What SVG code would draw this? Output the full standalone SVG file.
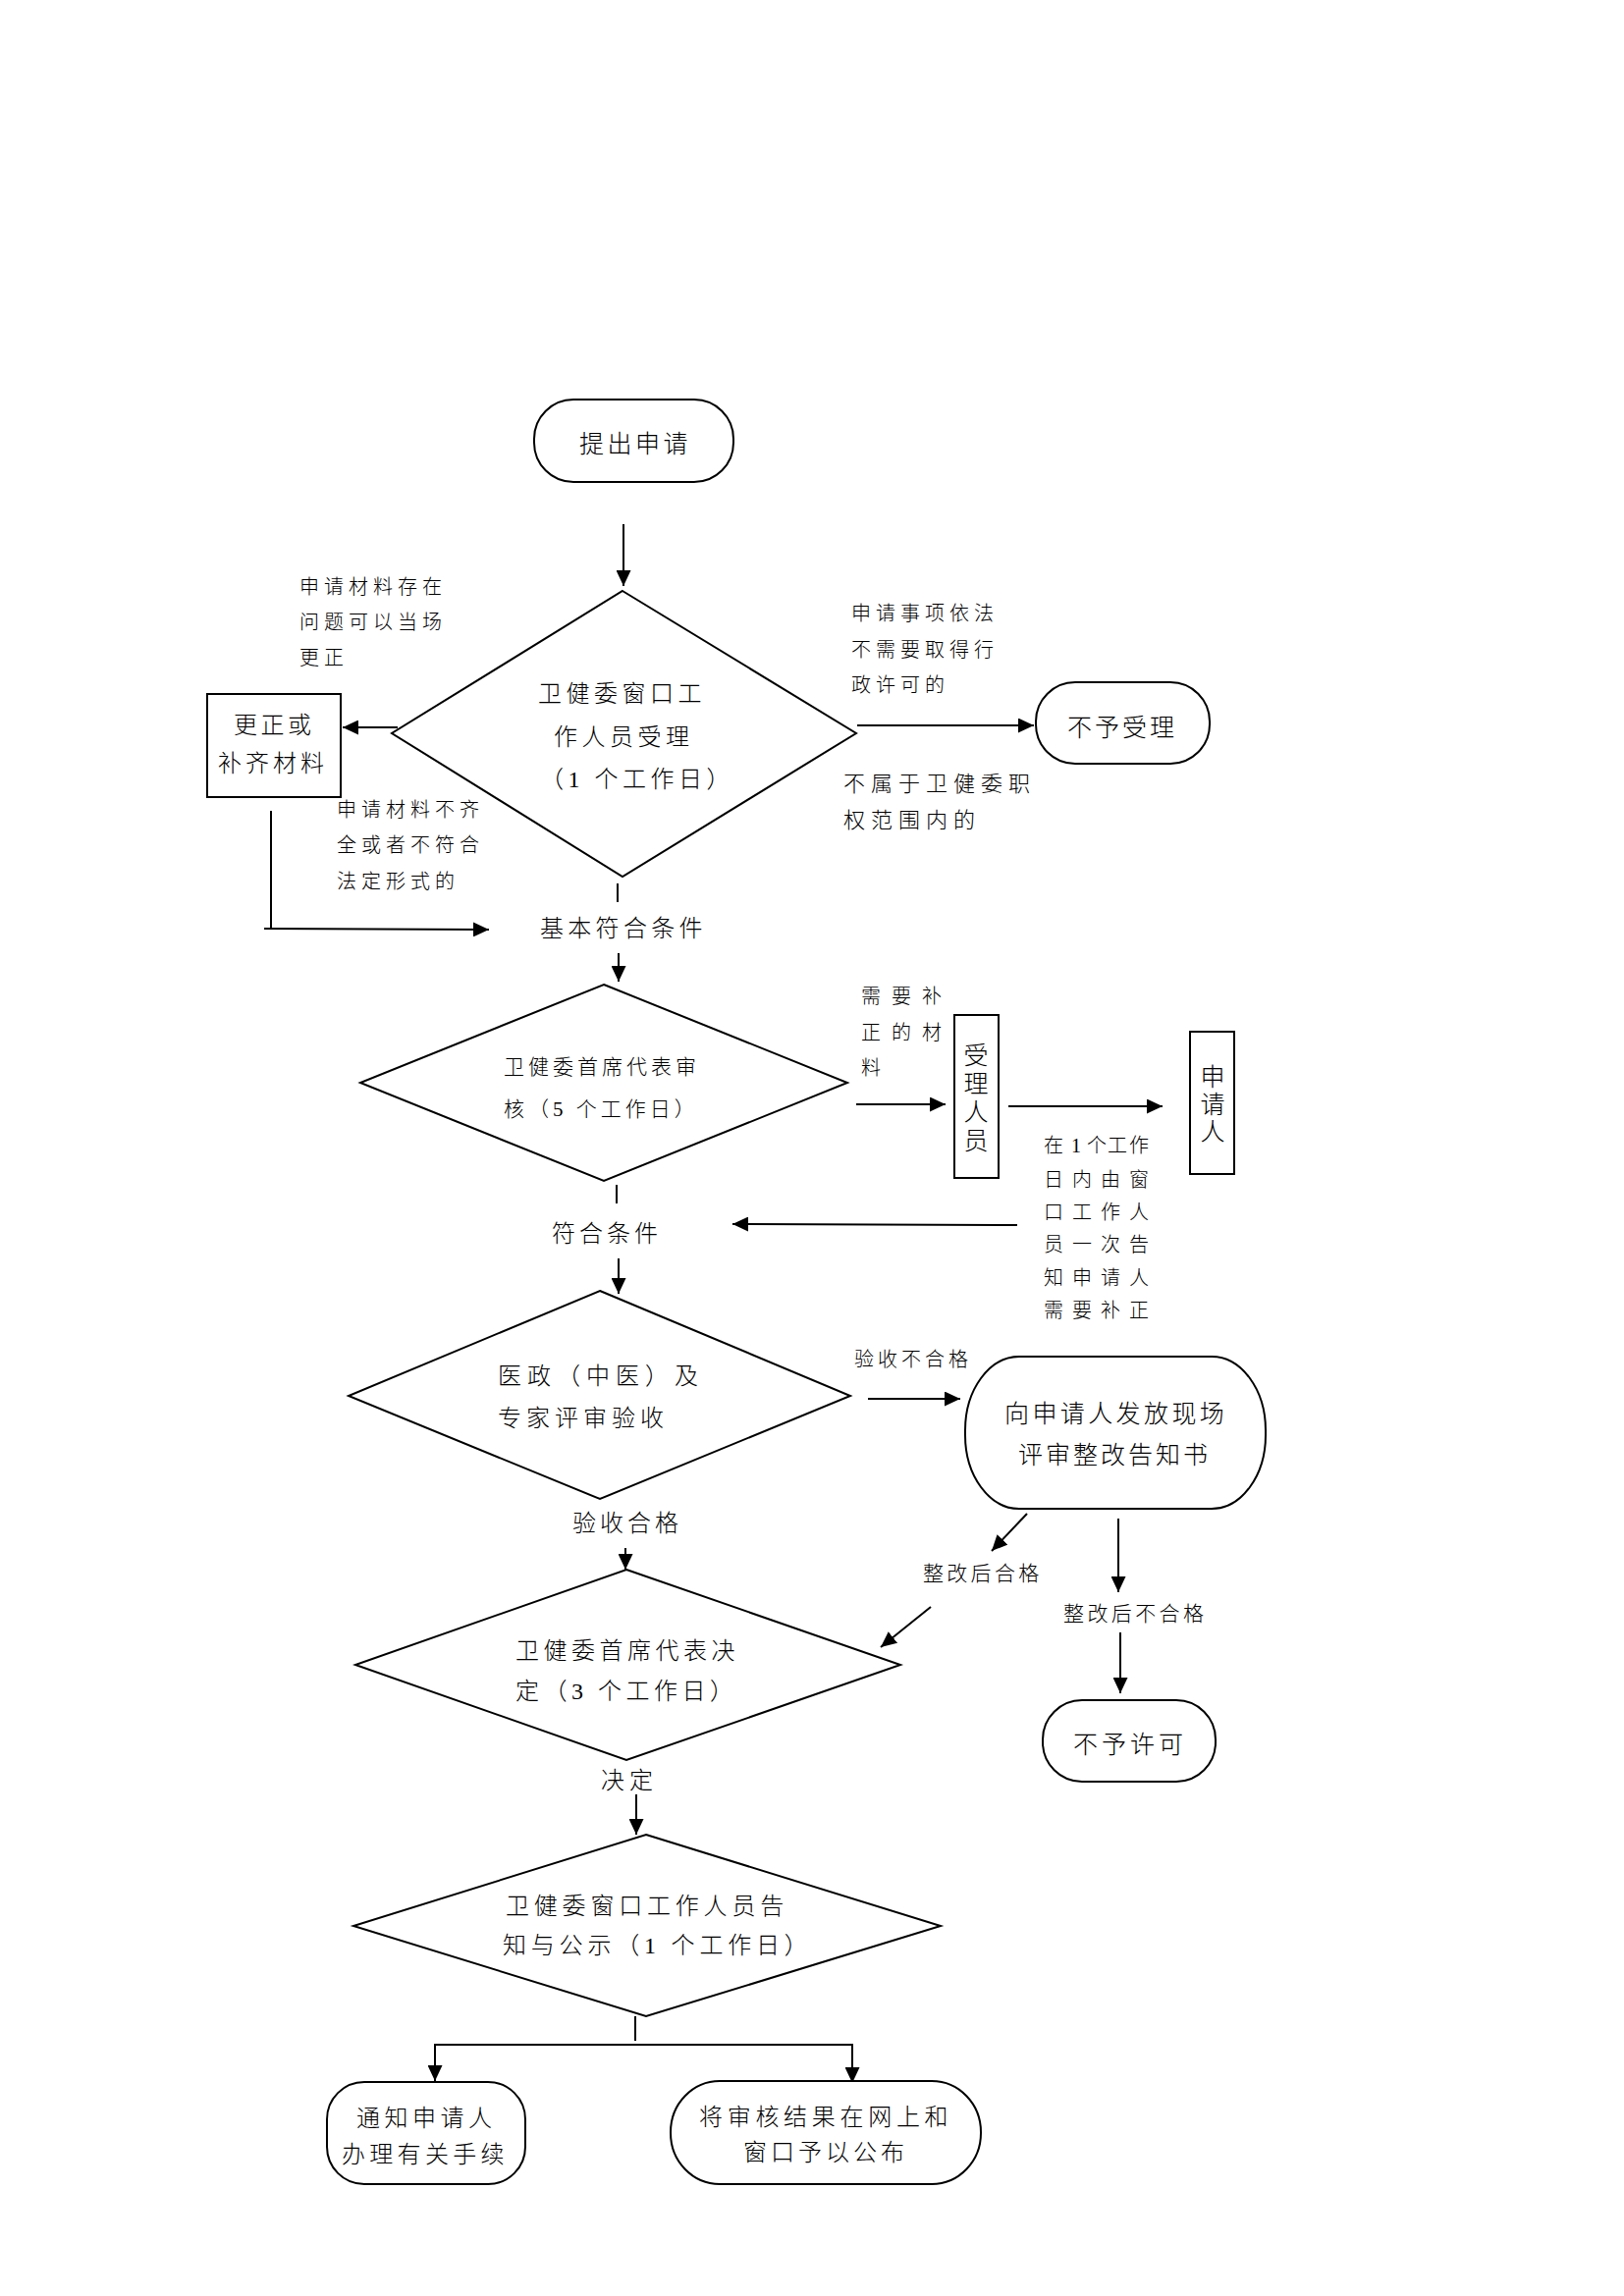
<svg xmlns="http://www.w3.org/2000/svg" width="1654" height="2339" viewBox="0 0 1654 2339">
<style>
.s{fill:#fff;stroke:#000;stroke-width:2}
.c{fill:none;stroke:#000;stroke-width:2}
text{font-family:"Liberation Serif","Noto Sans CJK SC",serif;font-weight:300;fill:#000;dominant-baseline:central}
.n{font-size:24px;letter-spacing:4.5px}
.l{font-size:20px;letter-spacing:5px}
.m{font-size:21px;letter-spacing:4px}
.v{font-size:25px;text-anchor:middle}
</style>
<defs>
<marker id="a" markerUnits="userSpaceOnUse" markerWidth="16" markerHeight="15" refX="16" refY="7.5" orient="auto"><path d="M0,0 L16,7.5 L0,15 z" fill="#000"/></marker>
</defs>
<rect width="1654" height="2339" fill="#fff"/>
<g id="connectors">
<line class="c" x1="635" y1="534" x2="635" y2="597" marker-end="url(#a)"/>
<line class="c" x1="405" y1="741" x2="349" y2="741" marker-end="url(#a)"/>
<line class="c" x1="873" y1="739" x2="1053" y2="739" marker-end="url(#a)"/>
<polyline class="c" points="276,826 276,947"/>
<line class="c" x1="269" y1="946" x2="498" y2="947" marker-end="url(#a)"/>
<line class="c" x1="629" y1="900" x2="629" y2="919"/>
<line class="c" x1="630" y1="971" x2="630" y2="1000" marker-end="url(#a)"/>
<line class="c" x1="628" y1="1207" x2="628" y2="1226"/>
<line class="c" x1="1036" y1="1248" x2="746" y2="1247" marker-end="url(#a)"/>
<line class="c" x1="630" y1="1282" x2="630" y2="1318" marker-end="url(#a)"/>
<line class="c" x1="872" y1="1125" x2="963" y2="1125" marker-end="url(#a)"/>
<line class="c" x1="1027" y1="1127" x2="1184" y2="1127" marker-end="url(#a)"/>
<line class="c" x1="884" y1="1425" x2="978" y2="1425" marker-end="url(#a)"/>
<line class="c" x1="1046" y1="1542" x2="1010" y2="1580" marker-end="url(#a)"/>
<line class="c" x1="948" y1="1637" x2="897" y2="1678" marker-end="url(#a)"/>
<line class="c" x1="1139" y1="1547" x2="1139" y2="1622" marker-end="url(#a)"/>
<line class="c" x1="1141" y1="1663" x2="1141" y2="1725" marker-end="url(#a)"/>
<line class="c" x1="637" y1="1577" x2="637" y2="1599" marker-end="url(#a)"/>
<line class="c" x1="648" y1="1828" x2="648" y2="1869" marker-end="url(#a)"/>
<line class="c" x1="647" y1="2054" x2="647" y2="2079"/>
<line class="c" x1="443" y1="2083" x2="869" y2="2083"/>
<line class="c" x1="443" y1="2082" x2="443" y2="2120" marker-end="url(#a)"/>
<line class="c" x1="868" y1="2082" x2="868" y2="2122" marker-end="url(#a)"/>
</g>
<g id="start">
<rect class="s" x="544" y="407" width="203" height="84" rx="40"/>
<text class="n" x="590" y="452" style="font-size:25px;letter-spacing:3.5px">提出申请</text>
</g>
<g id="accept">
<polygon class="s" points="634,602 872,747 634,893 399,747"/>
<text class="n" x="548" y="707">卫健委窗口工</text>
<text class="n" x="564" y="751">作人员受理</text>
<text class="n" x="550" y="794">（1 个工作日）</text>
</g>
<g id="correct">
<rect class="s" x="211" y="707" width="136" height="105"/>
<text class="n" x="238" y="739" style="letter-spacing:3.5px">更正或</text>
<text class="n" x="222" y="778" style="letter-spacing:4px">补齐材料</text>
</g>
<g id="reject">
<rect class="s" x="1055" y="695" width="177" height="83" rx="40"/>
<text class="n" x="1087" y="741" style="font-size:25px;letter-spacing:3px">不予受理</text>
</g>
<g id="labels1">
<text class="l" x="305" y="598">申请材料存在</text>
<text class="l" x="305" y="634">问题可以当场</text>
<text class="l" x="305" y="670">更正</text>
<text class="l" x="343" y="825">申请材料不齐</text>
<text class="l" x="343" y="861">全或者不符合</text>
<text class="l" x="343" y="898">法定形式的</text>
<text class="l" x="867" y="625">申请事项依法</text>
<text class="l" x="867" y="662">不需要取得行</text>
<text class="l" x="867" y="698">政许可的</text>
<text class="l" x="859" y="798" style="font-size:22px;letter-spacing:6px">不属于卫健委职</text>
<text class="l" x="859" y="835" style="font-size:22px;letter-spacing:6px">权范围内的</text>
<text class="n" x="550" y="946" style="letter-spacing:4.3px">基本符合条件</text>
</g>
<g id="review">
<polygon class="s" points="615,1003 863,1103 615,1203 367,1103"/>
<text class="m" x="513" y="1087">卫健委首席代表审</text>
<text class="m" x="513" y="1130">核（5 个工作日）</text>
</g>
<g id="staff">
<rect class="s" x="972" y="1034" width="45" height="166"/>
<text class="v" x="994" y="1075">受</text>
<text class="v" x="994" y="1104">理</text>
<text class="v" x="994" y="1133">人</text>
<text class="v" x="994" y="1162">员</text>
</g>
<g id="applicant">
<rect class="s" x="1212" y="1051" width="45" height="145"/>
<text class="v" x="1235" y="1097">申</text>
<text class="v" x="1235" y="1125">请</text>
<text class="v" x="1235" y="1153">人</text>
</g>
<g id="labels2">
<text class="l" x="877" y="1015" style="letter-spacing:11px">需要补</text>
<text class="l" x="877" y="1052" style="letter-spacing:11px">正的材</text>
<text class="l" x="877" y="1088">料</text>
<text class="l" style="letter-spacing:0" x="1063 1091 1107 1128 1150" y="1167">在1个工作</text>
<text class="l" x="1063" y="1202" style="letter-spacing:9px">日内由窗</text>
<text class="l" x="1063" y="1235" style="letter-spacing:9px">口工作人</text>
<text class="l" x="1063" y="1268" style="letter-spacing:9px">员一次告</text>
<text class="l" x="1063" y="1302" style="letter-spacing:9px">知申请人</text>
<text class="l" x="1063" y="1335" style="letter-spacing:9px">需要补正</text>
<text class="n" x="562" y="1257" style="letter-spacing:4px">符合条件</text>
</g>
<g id="inspect">
<polygon class="s" points="611,1315 866,1422 611,1527 355,1422"/>
<text class="n" x="507" y="1402" style="letter-spacing:6px">医政（中医）及</text>
<text class="n" x="507" y="1445" style="letter-spacing:5px">专家评审验收</text>
</g>
<g id="notice">
<rect class="s" x="983" y="1382" width="306" height="155" rx="55" ry="75"/>
<text class="n" x="1023" y="1440" style="font-size:25px;letter-spacing:3.4px">向申请人发放现场</text>
<text class="n" x="1037" y="1482" style="font-size:25px;letter-spacing:3px">评审整改告知书</text>
</g>
<g id="deny">
<rect class="s" x="1062" y="1732" width="176" height="83" rx="40"/>
<text class="n" x="1093" y="1777" style="font-size:25px;letter-spacing:4px">不予许可</text>
</g>
<g id="labels3">
<text class="l" x="870" y="1385" style="letter-spacing:4px">验收不合格</text>
<text class="l" x="940" y="1603" style="font-size:21px;letter-spacing:3.3px">整改后合格</text>
<text class="l" x="1083" y="1644" style="font-size:21px;letter-spacing:3.4px">整改后不合格</text>
<text class="n" x="583" y="1552" style="letter-spacing:4px">验收合格</text>
<text class="n" x="612" y="1814" style="letter-spacing:5px">决定</text>
</g>
<g id="decide">
<polygon class="s" points="638,1599 917,1696 638,1793 362,1696"/>
<text class="n" x="525" y="1682">卫健委首席代表决</text>
<text class="n" x="525" y="1723">定（3 个工作日）</text>
</g>
<g id="publicize">
<polygon class="s" points="658,1869 958,1962 658,2054 360,1962"/>
<text class="n" x="515" y="1942" style="letter-spacing:4.8px">卫健委窗口工作人员告</text>
<text class="n" x="512" y="1982" style="letter-spacing:4.8px">知与公示（1 个工作日）</text>
</g>
<g id="notify">
<rect class="s" x="333" y="2121" width="202" height="104" rx="38"/>
<text class="n" x="363" y="2158">通知申请人</text>
<text class="n" x="348" y="2195" style="letter-spacing:4.3px">办理有关手续</text>
</g>
<g id="publish">
<rect class="s" x="683" y="2120" width="316" height="105" rx="50" ry="52"/>
<text class="n" x="712" y="2157" style="letter-spacing:4.7px">将审核结果在网上和</text>
<text class="n" x="757" y="2193" style="letter-spacing:4px">窗口予以公布</text>
</g>
</svg>
